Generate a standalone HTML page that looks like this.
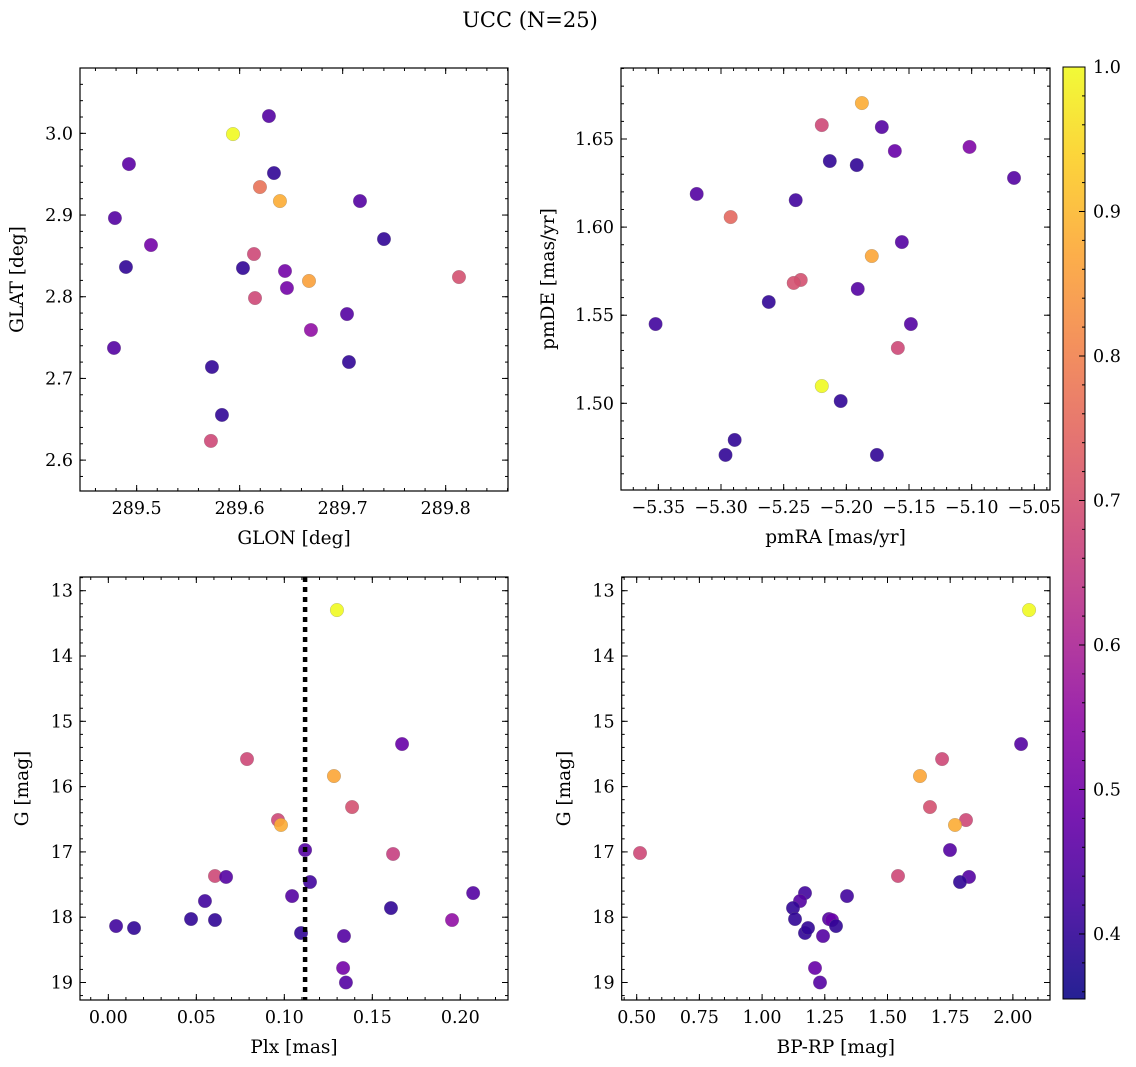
<!DOCTYPE html>
<html><head><meta charset="utf-8">
<style>
html,body{margin:0;padding:0;background:#fff;}
svg{display:block;font-family:"DejaVu Serif","Liberation Serif",serif;}
</style></head>
<body>
<svg id="fig" width="1136" height="1067" viewBox="0 0 1136 1067" xmlns="http://www.w3.org/2000/svg">
<text x="530" y="27" font-size="21" text-anchor="middle">UCC (N=25)</text>
</svg>
<script>
// ---- data ----
const glon = [289.4925,289.6284,289.5935,289.4789,289.6333,289.6197,289.6391,289.5139,289.4896,289.7168,289.7401,289.6032,289.6139,289.6440,289.6459,289.6673,289.6149,289.8129,289.7042,289.6692,289.4780,289.5731,289.7061,289.5828,289.5721];
const glat = [2.9624,3.0212,2.9991,2.8963,2.9514,2.9343,2.9171,2.8633,2.8364,2.9171,2.8706,2.8351,2.8523,2.8315,2.8107,2.8193,2.7984,2.8241,2.7788,2.7593,2.7373,2.7140,2.7201,2.6553,2.6235];
const prob1 = [0.46,0.45,1.0,0.45,0.40,0.77,0.88,0.50,0.40,0.45,0.40,0.40,0.68,0.50,0.50,0.86,0.68,0.70,0.45,0.55,0.45,0.40,0.40,0.40,0.68];

const pmra = [-5.1876,-5.2196,-5.1717,-5.2132,-5.1917,-5.1613,-5.1017,-5.0662,-5.3194,-5.2923,-5.2404,-5.1557,-5.1797,-5.2364,-5.2420,-5.2619,-5.1909,-5.3522,-5.1485,-5.1589,-5.2196,-5.2045,-5.2891,-5.2964,-5.1756];
const pmde = [1.6704,1.6579,1.6568,1.6375,1.6352,1.6432,1.6455,1.6279,1.6188,1.6057,1.6153,1.5915,1.5836,1.5700,1.5683,1.5575,1.5649,1.5450,1.5450,1.5314,1.5098,1.5013,1.4792,1.4707,1.4707];
const prob2 = [0.88,0.68,0.45,0.40,0.40,0.48,0.52,0.45,0.45,0.75,0.42,0.45,0.87,0.70,0.70,0.40,0.45,0.42,0.45,0.68,1.0,0.40,0.40,0.40,0.40];

const plx = [0.1299,0.1669,0.0788,0.1282,0.1385,0.0964,0.0981,0.1118,0.1618,0.0606,0.0669,0.1146,0.0549,0.1044,0.2073,0.1606,0.0470,0.0606,0.0044,0.0146,0.1953,0.1095,0.1339,0.1334,0.1350];
const gmag3 = [13.296,15.348,15.578,15.838,16.313,16.512,16.588,16.971,17.032,17.369,17.384,17.461,17.752,17.676,17.630,17.860,18.028,18.043,18.135,18.166,18.043,18.242,18.288,18.778,19.0];
const prob3 = [1.0,0.48,0.68,0.87,0.70,0.68,0.88,0.45,0.66,0.68,0.45,0.42,0.42,0.45,0.45,0.40,0.40,0.40,0.42,0.40,0.55,0.40,0.45,0.50,0.45];
const plxMean = [0.1118];

const bprp = [2.0646,2.0327,1.7177,1.6296,1.6694,1.8130,1.7692,1.7492,0.5132,1.5419,1.8250,1.7891,1.1711,1.3386,1.1512,1.1233,1.1313,1.1711,1.1831,1.2668,1.2788,1.2947,1.2429,1.2110,1.2309];
const gmag4 = [13.296,15.348,15.578,15.838,16.313,16.512,16.588,16.971,17.017,17.369,17.384,17.461,17.630,17.676,17.752,17.860,18.028,18.242,18.166,18.028,18.043,18.135,18.288,18.778,19.0];
const prob4 = [1.0,0.45,0.68,0.87,0.70,0.68,0.88,0.45,0.68,0.68,0.45,0.40,0.42,0.42,0.45,0.40,0.40,0.40,0.40,0.45,0.48,0.40,0.45,0.48,0.45];

const cbTicks = [0.4,0.5,0.6,0.7,0.8,0.9,1.0];

// ---- helpers ----
const NS="http://www.w3.org/2000/svg";
const svg=document.getElementById('fig');
function mk(tag,attrs,parent){const e=document.createElementNS(NS,tag);for(const k in attrs)e.setAttribute(k,attrs[k]);(parent||svg).appendChild(e);return e;}
const CMIN=0.355,CMAX=1.0;
const plasma=[[13,8,135],[65,4,157],[106,0,168],[143,13,164],[177,42,144],[204,71,120],[225,100,98],[242,132,75],[252,166,54],[252,206,37],[240,249,33]];
function cmap(v){let t=(v-CMIN)/(CMAX-CMIN);t=Math.max(0,Math.min(1,t))*10;const i=Math.min(9,Math.floor(t)),f=t-i;const a=plasma[i],b=plasma[i+1];
 return 'rgb('+a.map((c,k)=>Math.round(c+(b[k]-c)*f)).join(',')+')';}
function fmt(v,d){let s=v.toFixed(d);if(v<0)s='\u2212'+s.slice(1);return s;}
const TF=17.5, LF=18.5;

function panel(cfg){
 const g=mk('g',{});
 
 
 const {L,R,T,B,x0,x1,y0,y1}=cfg;
 const sx=v=>L+(v-x0)/(x1-x0)*(R-L);
 const sy=v=>cfg.invert? T+(v-y0)/(y1-y0)*(B-T) : B-(v-y0)/(y1-y0)*(B-T);
 const pg=mk('g',{},g);
 cfg.xs.forEach((xv,i)=>{
  const c=mk('circle',{cx:sx(xv).toFixed(2),cy:sy(cfg.ys[i]).toFixed(2),r:6.8,fill:cmap(cfg.cs[i]),'fill-opacity':0.9,stroke:'#777','stroke-width':0.4,'stroke-opacity':0.6},pg);
  
  
 });
 if(cfg.extra)cfg.extra(g,sx,sy);
 const tg=mk('g',{stroke:'#000','stroke-width':1},g);
 function ticksX(step,len,labels){
  const n0=Math.ceil(x0/step-1e-6),n1=Math.floor(x1/step+1e-6);
  for(let n=n0;n<=n1;n++){const v=n*step,x=sx(v);
   mk('line',{x1:x,y1:B,x2:x,y2:B-len},tg);mk('line',{x1:x,y1:T,x2:x,y2:T+len},tg);
   if(labels){const t=mk('text',{x:x,y:B+23,'font-size':TF,'text-anchor':'middle'},g);t.textContent=fmt(v,cfg.xd);
    }}
 }
 function ticksY(step,len,labels){
  const lo=Math.min(y0,y1),hi=Math.max(y0,y1);
  const n0=Math.ceil(lo/step-1e-6),n1=Math.floor(hi/step+1e-6);
  for(let n=n0;n<=n1;n++){const v=n*step,y=sy(v);
   mk('line',{x1:L,y1:y,x2:L+len,y2:y},tg);mk('line',{x1:R,y1:y,x2:R-len,y2:y},tg);
   if(labels){const t=mk('text',{x:L-7,y:y+6,'font-size':TF,'text-anchor':'end'},g);t.textContent=fmt(v,cfg.yd);
    }}
 }
 ticksX(cfg.xmin,3,false);ticksX(cfg.xmaj,6,true);
 ticksY(cfg.ymin,3,false);ticksY(cfg.ymaj,6,true);
 const fr=mk('rect',{x:L,y:T,width:R-L,height:B-T,fill:'none',stroke:'#000','stroke-width':1.2},g);
 
 const xl=mk('text',{x:(L+R)/2,y:B+53,'font-size':LF,'text-anchor':'middle'},g);xl.textContent=cfg.xlabel;
 
 const yx=cfg.ylx,yy=(T+B)/2;
 const yl=mk('text',{x:yx,y:yy,'font-size':LF,'text-anchor':'middle',transform:'rotate(-90 '+yx+' '+yy+')'},g);yl.textContent=cfg.ylabel;
 
}

panel({name:'glon-glat-panel',L:80,R:508,T:68,B:491,x0:289.445,x1:289.8605,y0:2.5622,y1:3.080,xmaj:0.1,xmin:0.02,ymaj:0.1,ymin:0.02,xd:1,yd:1,
 xs:glon,ys:glat,cs:prob1,xlabel:'GLON [deg]',ylabel:'GLAT [deg]',ylx:23});
panel({name:'pm-panel',L:621,R:1050,T:68,B:490,x0:-5.3798,x1:-5.0375,y0:1.4508,y1:1.6903,xmaj:0.05,xmin:0.01,ymaj:0.05,ymin:0.01,xd:2,yd:2,
 xs:pmra,ys:pmde,cs:prob2,xlabel:'pmRA [mas/yr]',ylabel:'pmDE [mas/yr]',ylx:554});
panel({name:'plx-g-panel',L:80,R:508,T:577,B:1000,x0:-0.0161,x1:0.2271,y0:12.79,y1:19.268,invert:true,xmaj:0.05,xmin:0.01,ymaj:1,ymin:0.2,xd:2,yd:0,
 xs:plx,ys:gmag3,cs:prob3,xlabel:'Plx [mas]',ylabel:'G [mag]',ylx:28,
 extra:(g,sx,sy)=>{plxMean.forEach(v=>{const l=mk('line',{x1:sx(v),x2:sx(v),y1:577,y2:1000,stroke:'#000','stroke-width':4.5,'stroke-dasharray':'5,5'},g);
  });}});
panel({name:'cmd-panel',L:621.7,R:1050,T:577,B:1000,x0:0.4402,x1:2.148,y0:12.79,y1:19.268,invert:true,xmaj:0.25,xmin:0.05,ymaj:1,ymin:0.2,xd:2,yd:0,
 xs:bprp,ys:gmag4,cs:prob4,xlabel:'BP-RP [mag]',ylabel:'G [mag]',ylx:570});

// colorbar
(function(){
 const L=1063,R=1085,T=67,B=999;const v0=0.355,v1=1.0;
 const sy=v=>B-(v-v0)/(v1-v0)*(B-T);
 const g=mk('g',{});
 
 
 const defs=mk('defs',{},g);const lg=mk('linearGradient',{id:'cg',x1:0,y1:1,x2:0,y2:0},defs);
 for(let i=0;i<=20;i++){const v=v0+(v1-v0)*i/20;mk('stop',{offset:(i/20),'stop-color':cmap(v),'stop-opacity':0.9},lg);}
 mk('rect',{x:L,y:T,width:R-L,height:B-T,fill:'url(#cg)',stroke:'#000','stroke-width':1},g);
 for(let n=18;n<=50;n++){const v=n*0.02;if(v<v0||v>v1+1e-6)continue;const y=sy(v);mk('line',{x1:R,x2:R-3,y1:y,y2:y,stroke:'#000'},g);}
 cbTicks.forEach(v=>{const y=sy(v);mk('line',{x1:R,x2:R-6,y1:y,y2:y,stroke:'#000'},g);
  const t=mk('text',{x:R+8,y:y+6,'font-size':TF},g);t.textContent=v.toFixed(1);
  });
})();
</script>
</body></html>
